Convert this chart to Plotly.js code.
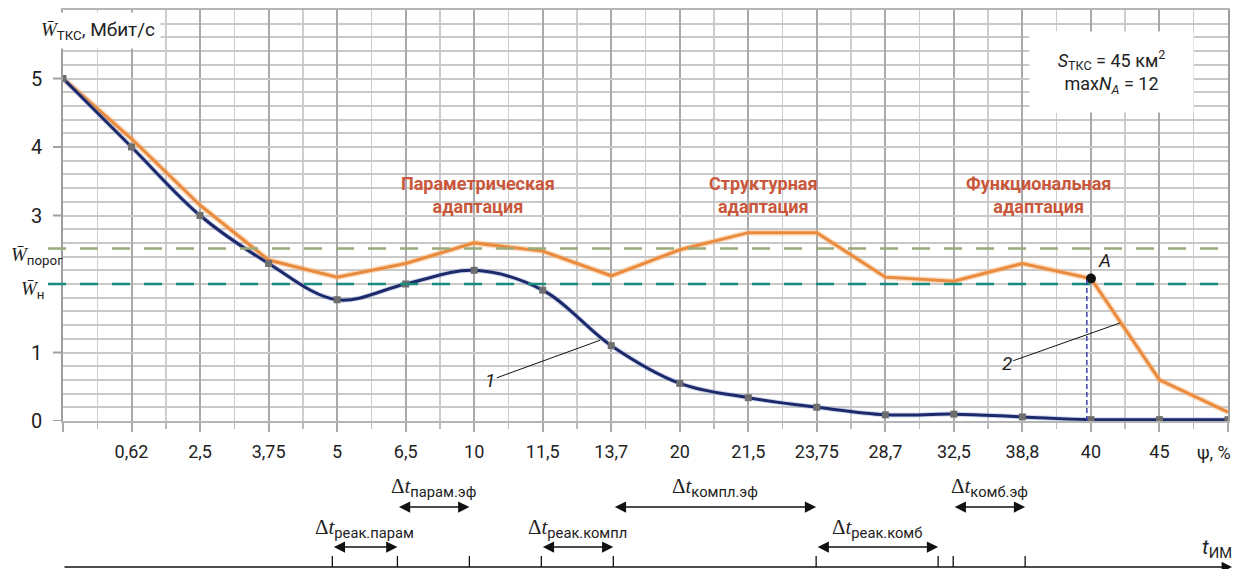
<!DOCTYPE html>
<html><head><meta charset="utf-8">
<script src="https://cdn.plot.ly/plotly-3.0.1.min.js"></script>
<style>body{margin:0;background:#fff}#chart{width:1233px;height:569px}</style>
</head><body><div id="chart"></div>
<script>
// ---- data ----
const psiLabels = ['', '0,62', '2,5', '3,75', '5', '6,5', '10', '11,5', '13,7', '20', '21,5', '23,75', '28,7', '32,5', '38,8', '40', '45', ''];
const curve1 = [5.0, 4.0, 3.0, 2.3, 1.77, 2.0, 2.2, 1.91, 1.1, 0.55, 0.34, 0.2, 0.09, 0.1, 0.06, 0.02, 0.02, 0.02];
const curve2 = [5.0, 4.12, 3.15, 2.35, 2.1, 2.3, 2.6, 2.48, 2.12, 2.5, 2.75, 2.75, 2.1, 2.04, 2.3, 2.08, 0.6, 0.13];
const yTickVals = [0, 1, 3, 4, 5];
const wPorog = 2.52;
const wN = 2.0;
const pointAIndex = 15;
// time axis events (in ψ-index units) and intervals between them
const tEvents = [3.93, 4.88, 5.93, 6.98, 8.03, 10.99, 12.77, 12.99, 14.04];
const intervalNames = ['реак.парам', 'парам.эф', 'реак.компл', 'компл.эф', 'реак.комб', 'комб.эф'];
const intervalFrom = [0, 1, 3, 4, 5, 7];
const intervalTo = [1, 2, 4, 5, 6, 8];
const intervalRow = [0, 1, 0, 1, 0, 1];
const regionNames = ['Параметрическая<br>адаптация', 'Структурная<br>адаптация', 'Функциональная<br>адаптация'];

// ---- layout helpers (pixel -> paper) ----
const L = 63, R = 5, T = 10, B = 148, W = 1233, H = 569;
const PW = W - L - R, PH = H - T - B;
const px = p => (p - L) / PW;
const py = p => (H - B - p) / PH;

const idx = psiLabels.map((_, i) => i);
const orange = '#e98a3c', navy = '#1c2a6c', red = '#c9573b';

const traces = [
  {x: idx, y: curve2, mode: 'lines', line: {color: 'rgba(245,180,120,0.45)', width: 6}, hoverinfo: 'skip'},
  {x: idx, y: curve2, mode: 'lines', line: {color: orange, width: 3}, hoverinfo: 'skip'},
  {x: idx, y: curve1, mode: 'lines', line: {color: 'rgba(120,140,200,0.35)', width: 5, shape: 'spline'}, hoverinfo: 'skip'},
  {x: idx, y: curve1, mode: 'lines+markers', line: {color: navy, width: 3, shape: 'spline'},
   marker: {symbol: 'square', size: 7, color: '#6e6e6e'}, hoverinfo: 'skip'},
  {x: [pointAIndex], y: [curve2[pointAIndex]], mode: 'markers', marker: {color: '#111', size: 10}, hoverinfo: 'skip'}
];

const shapes = [
  {type: 'line', xref: 'paper', yref: 'y', x0: px(48), x1: 1, y0: wPorog, y1: wPorog, line: {color: '#9aab7a', width: 2.5, dash: '18px,14px'}},
  {type: 'line', xref: 'paper', yref: 'y', x0: px(48), x1: 1, y0: wN, y1: wN, line: {color: '#1b8a7c', width: 2.5, dash: '18px,14px'}},
  {type: 'line', xref: 'x', yref: 'y', x0: pointAIndex - 0.06, x1: pointAIndex - 0.06, y0: 0, y1: curve2[pointAIndex], line: {color: '#3b3fae', width: 1.5, dash: '5px,3px'}}
];
tEvents.forEach(t => shapes.push({type: 'line', xref: 'x', yref: 'paper', x0: t, x1: t, y0: py(556), y1: py(567), line: {color: '#111', width: 1.3}}));
// y-axis tick marks
yTickVals.forEach(v => shapes.push({type: 'line', xref: 'paper', yref: 'y', x0: px(53), x1: 0, y0: v, y1: v, line: {color: '#a0a0a0', width: 2}}));

const annotations = [
  {xref: 'paper', yref: 'paper', x: px(35), y: py(30), xanchor: 'left', yanchor: 'middle',
   text: '<i>W\u0304</i><sub>ТКС</sub>, Мбит/с', showarrow: false, bgcolor: '#fff', borderpad: 5,
   font: {family: 'Roboto', size: 19, color: '#222'}},
  {xref: 'paper', yref: 'y', x: px(37), y: wPorog, yshift: -7, xanchor: 'center', yanchor: 'middle',
   text: '<i>W\u0304</i><sub>порог</sub>', showarrow: false, font: {family: 'Roboto', size: 19, color: '#222'}},
  {xref: 'paper', yref: 'y', x: px(33), y: wN, yshift: -5, xanchor: 'center', yanchor: 'middle',
   text: '<i>W\u0304</i><sub>н</sub>', showarrow: false, font: {family: 'Roboto', size: 19, color: '#222'}},
  {xref: 'paper', yref: 'paper', x: px(1111), y: py(72), xanchor: 'center', yanchor: 'middle',
   text: '<i>S</i><sub>ТКС</sub> = 45 км<sup>2</sup><br>max<i>N<sub>A</sub></i> = 12', showarrow: false,
   bgcolor: '#fff', width: 155, height: 72, borderpad: 4, font: {family: 'Roboto', size: 18, color: '#222'}},
  {xref: 'x', yref: 'y', x: pointAIndex, y: curve2[pointAIndex], xshift: 14, yshift: 18, showarrow: false,
   text: '<i>A</i>', font: {family: 'Roboto', size: 19, color: '#222'}},
  {xref: 'paper', yref: 'paper', x: px(1233), y: py(452), xanchor: 'right', yanchor: 'middle', showarrow: false,
   text: 'ψ, %', font: {family: 'Roboto', size: 18, color: '#222'}},
  {xref: 'x', yref: 'y', x: 7.84, y: 1.18, ax: -110, ay: 40, showarrow: true, arrowhead: 0, arrowwidth: 1, arrowcolor: '#111',
   text: '<i>1</i>', font: {family: 'Roboto', size: 19, color: '#222'}},
  {xref: 'x', yref: 'y', x: 15.42, y: 1.43, ax: -113, ay: 40, showarrow: true, arrowhead: 0, arrowwidth: 1, arrowcolor: '#111',
   text: '<i>2</i>', font: {family: 'Roboto', size: 19, color: '#222'}},
  // time axis
  {xref: 'paper', yref: 'paper', x: px(1232), y: py(567), ax: -(1232 - L), ay: 0, axref: 'pixel', ayref: 'pixel',
   showarrow: true, arrowhead: 2, arrowsize: 1.6, arrowwidth: 1.3, arrowcolor: '#111', text: ''},
  {xref: 'paper', yref: 'paper', x: px(1217), y: py(548), showarrow: false, xanchor: 'center', yanchor: 'middle',
   text: '<i>t</i><sub>ИМ</sub>', font: {family: 'Roboto', size: 21, color: '#222'}}
];
// y tick labels
yTickVals.forEach(v => annotations.push({xref: 'paper', yref: 'y', x: px(44), y: v, xanchor: 'right', yanchor: 'middle',
  showarrow: false, text: String(v), font: {family: 'Roboto', size: 20, color: '#222'}}));
const regionX = [478, 763, 1038];
regionNames.forEach((t, i) => annotations.push({xref: 'paper', yref: 'paper', x: px(regionX[i]), y: py(195),
  xanchor: 'center', yanchor: 'middle', showarrow: false, text: t,
  font: {family: 'Roboto', size: 18, weight: 700, color: red}}));
const rowArrowY = [547, 507], rowLabelY = [528, 488];
intervalNames.forEach((n, i) => {
  const a = tEvents[intervalFrom[i]], b = tEvents[intervalTo[i]];
  annotations.push({xref: 'x', yref: 'paper', x: b, y: py(rowArrowY[intervalRow[i]]), axref: 'x', ax: a, ayref: 'pixel', ay: 0,
    showarrow: true, arrowside: 'end+start', arrowhead: 2, arrowsize: 1.5, arrowwidth: 1.5, arrowcolor: '#111', text: ''});
  annotations.push({xref: 'x', yref: 'paper', x: (a + b) / 2, y: py(rowLabelY[intervalRow[i]]), showarrow: false,
    xanchor: 'center', yanchor: 'middle',
    text: '<span style="font-family:\'Liberation Serif\'">Δ<i>t</i></span><sub>' + n + '</sub>',
    font: {family: 'Roboto', size: 21, color: '#222'}});
});

const layout = {
  width: W, height: H, margin: {l: L, r: R, t: T, b: B},
  paper_bgcolor: '#fff', plot_bgcolor: '#fff', showlegend: false,
  xaxis: {range: [0, 17], tickmode: 'array', tickvals: idx, ticktext: psiLabels,
    showgrid: true, gridcolor: '#a9a9a9', gridwidth: 2, zeroline: false,
    showline: true, mirror: true, linecolor: '#b5b5b5', linewidth: 2,
    ticks: 'outside', ticklen: 9, tickwidth: 2, tickcolor: '#aaa', ticklabelstandoff: 4,
    tickfont: {family: 'Roboto', size: 18, color: '#222'},
    minor: {tickmode: 'linear', tick0: 0, dtick: 0.5, showgrid: true, gridcolor: '#cdcdcd', gridwidth: 1.5,
      ticks: 'outside', ticklen: 6, tickcolor: '#bbb', tickwidth: 1.5}},
  yaxis: {range: [0, 6], tickmode: 'array', tickvals: yTickVals, showticklabels: false,
    showgrid: true, gridcolor: '#c9c9c9', gridwidth: 2, zeroline: false,
    showline: true, mirror: true, linecolor: '#9e9e9e', linewidth: 2, ticks: '',
    minor: {tickmode: 'linear', tick0: 0, dtick: 0.2, showgrid: true, gridcolor: '#c9c9c9', gridwidth: 2}},
  shapes: shapes, annotations: annotations
};
Plotly.newPlot('chart', traces, layout, {displayModeBar: false, staticPlot: true});
</script></body></html>
